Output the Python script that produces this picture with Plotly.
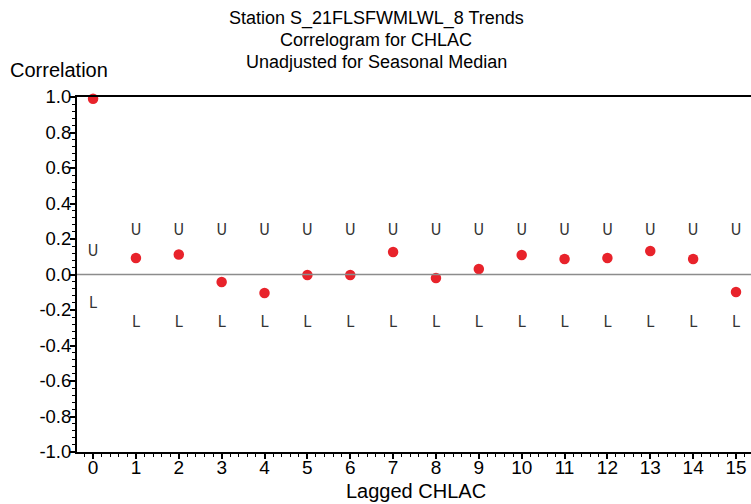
import plotly.graph_objects as go

lags = list(range(16))
correlation = [0.99, 0.093, 0.113, -0.042, -0.104, -0.003, -0.003, 0.127,
               -0.02, 0.031, 0.11, 0.087, 0.093, 0.132, 0.087, -0.099]
upper = [0.128] + [0.243] * 15
lower = [-0.165] + [-0.275] * 15

x_ticks = list(range(16))
y_ticks = [1.0, 0.8, 0.6, 0.4, 0.2, 0.0, -0.2, -0.4, -0.6, -0.8, -1.0]
y_labels = ["1.0", "0.8", "0.6", "0.4", "0.2", "0.0", "-0.2", "-0.4", "-0.6", "-0.8", "-1.0"]

title_lines = ["Station S_21FLSFWMLWL_8 Trends", "Correlogram for CHLAC",
               "Unadjusted for Seasonal Median"]

FONT = "Liberation Sans, Arial, sans-serif"
NARROW = "Liberation Sans Narrow, DejaVu Sans Condensed, sans-serif"

fig = go.Figure()
fig.add_trace(go.Scatter(x=lags, y=upper, mode="text", text=["U"] * len(lags),
                         textfont=dict(family=NARROW, size=16, color="#333333"),
                         showlegend=False, hoverinfo="skip"))
fig.add_trace(go.Scatter(x=lags, y=lower, mode="text", text=["L"] * len(lags),
                         textfont=dict(family=NARROW, size=16, color="#333333"),
                         showlegend=False, hoverinfo="skip"))
fig.add_trace(go.Scatter(x=lags, y=correlation, mode="markers",
                         marker=dict(color="#e8232b", size=10.5),
                         showlegend=False, cliponaxis=False))

fig.add_shape(type="line", xref="paper", x0=0, x1=1, yref="y", y0=0, y1=0,
              line=dict(color="#8c8c8c", width=1.5))

# plot area: x 77..751, y 97..452 (height 355, width 674)
annotations = []
for line, ypix in zip(title_lines, [18, 40, 62]):
    annotations.append(dict(text=line, xref="paper", yref="paper",
                            x=(376 - 77) / 674, y=(452 - ypix) / 355,
                            xanchor="center", yanchor="middle", showarrow=False,
                            font=dict(family=FONT, size=18, color="black")))
annotations.append(dict(text="Correlation", xref="paper", yref="paper",
                        x=(8 - 77) / 674, y=(452 - 70) / 355,
                        xanchor="left", yanchor="middle", showarrow=False,
                        font=dict(family=FONT, size=20, color="black")))
annotations.append(dict(text="Lagged CHLAC", xref="paper", yref="paper",
                        x=(415.5 - 77) / 674, y=(452 - 491) / 355,
                        xanchor="center", yanchor="middle", showarrow=False,
                        font=dict(family=FONT, size=20, color="black")))

fig.update_layout(
    width=751, height=504,
    margin=dict(l=77, r=0, t=97, b=52),
    paper_bgcolor="white", plot_bgcolor="white",
    font=dict(family=FONT, size=18, color="black"),
    xaxis=dict(range=[-0.375, 15.35], tickvals=x_ticks, ticktext=[str(v) for v in x_ticks],
               showgrid=False, zeroline=False, showline=True, linecolor="black", linewidth=2,
               mirror=True, ticks="outside", ticklen=5, tickwidth=1.5, tickcolor="black",
               minor=dict(dtick=0.2, ticks="outside", ticklen=3, tickwidth=1, tickcolor="black"),
               tickfont=dict(size=19), ticklabelstandoff=-8),
    yaxis=dict(range=[-1.0, 1.0], tickvals=y_ticks, ticktext=y_labels,
               showgrid=False, zeroline=False, showline=True, linecolor="black", linewidth=2,
               ticks="outside", ticklen=5, tickwidth=1.5, tickcolor="black",
               minor=dict(dtick=0.04, ticks="outside", ticklen=3, tickwidth=1, tickcolor="black"),
               tickfont=dict(size=18.5), ticklabelstandoff=-5),
    annotations=annotations,
)

fig.write_html("out.html", config={"displayModeBar": False},
               post_script="document.body.style.margin='0';")
